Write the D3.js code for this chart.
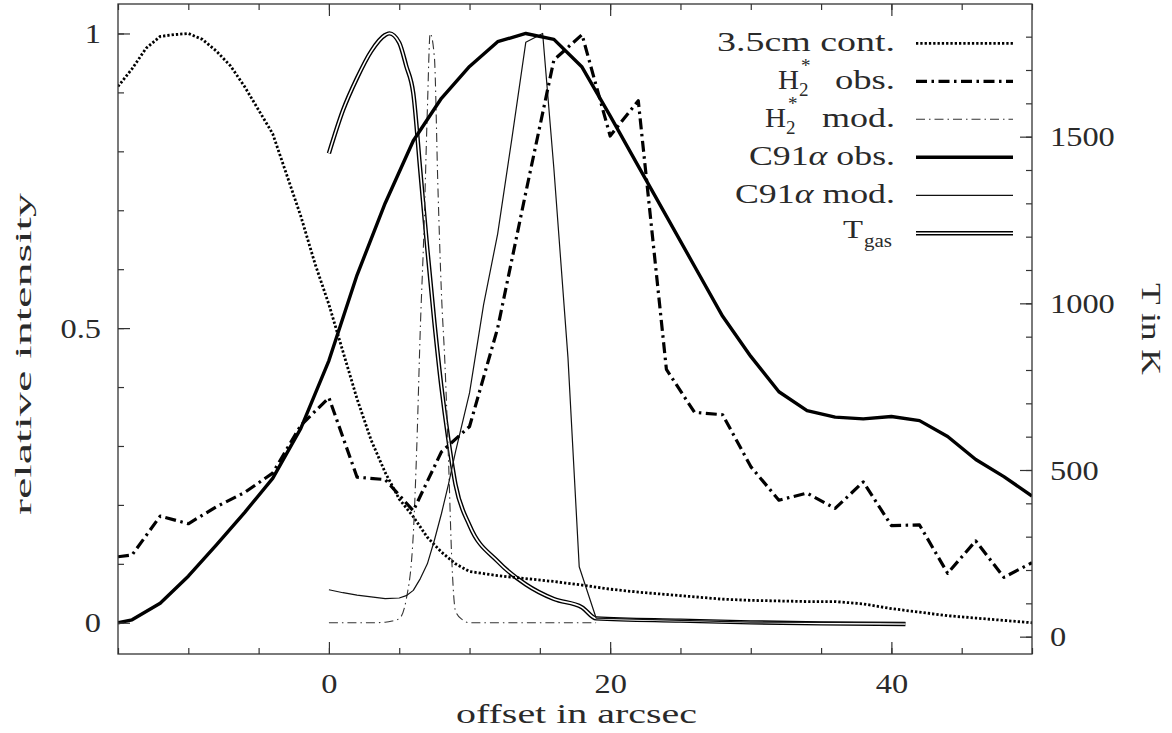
<!DOCTYPE html>
<html>
<head>
<meta charset="utf-8">
<script src="https://cdn.jsdelivr.net/npm/d3@7"></script>
<style>
  body { margin: 0; background: #fff; }
  text { font-family: "Liberation Serif", serif; fill: #2a2a2a; }
</style>
</head>
<body>
<div id="d3"></div>
<script>
// ---- data (offset in arcsec / relative intensity, T in K) ----
const contOffset = [-15,-14,-13,-12,-11,-10,-9,-8,-7,-6,-5,-4,-3,-2,-1,0,1,2,3,4,5,6,7,8,9,10,12,14,16,18,20,22,24,26,28,30,32,34,36,38,40,42,44,46,48,50];
const contValue  = [0.91,0.94,0.975,0.995,0.998,1.0,0.99,0.97,0.945,0.91,0.87,0.83,0.76,0.69,0.61,0.54,0.46,0.38,0.31,0.255,0.21,0.18,0.145,0.12,0.10,0.087,0.08,0.075,0.07,0.064,0.057,0.052,0.048,0.044,0.04,0.038,0.037,0.036,0.036,0.032,0.024,0.018,0.012,0.008,0.004,0.0];

const h2ObsOffset = [-15,-14,-12,-10,-8,-6,-4,-2,0,2,4,6,8,10,12,14,16,18,20,22,24,26,28,30,32,34,36,38,40,42,44,46,48,50];
const h2ObsValue  = [0.112,0.115,0.181,0.168,0.197,0.221,0.254,0.335,0.382,0.247,0.243,0.19,0.29,0.333,0.5,0.73,0.955,0.998,0.826,0.886,0.43,0.357,0.353,0.265,0.208,0.22,0.194,0.239,0.165,0.166,0.084,0.139,0.077,0.102];

const h2ModOffset = [0,1,2,3,4,4.5,5,5.5,6,6.25,6.5,6.75,7,7.2,7.5,7.75,8,8.25,8.5,8.75,9,9.5,10,12,14,16,18,19];
const h2ModValue  = [0,0,0,0,0.001,0.003,0.007,0.04,0.15,0.3,0.5,0.66,0.87,1.0,0.96,0.74,0.56,0.44,0.28,0.1,0.02,0.005,0,0,0,0,0,0];

const c91ObsOffset = [-15,-14,-12,-10,-8,-6,-4,-2,0,2,4,6,8,10,12,14,16,18,20,22,24,26,28,30,32,34,36,38,40,42,44,46,48,50];
const c91ObsValue  = [0.0,0.005,0.033,0.079,0.132,0.187,0.245,0.33,0.445,0.59,0.712,0.818,0.89,0.944,0.986,1.0,0.99,0.943,0.86,0.775,0.69,0.605,0.52,0.452,0.392,0.36,0.349,0.346,0.35,0.343,0.316,0.277,0.248,0.215];

const c91ModOffset = [0,1,2,3,4,5,5.5,6,6.5,7,7.5,8,8.5,9,9.5,10,11,12,13,14,15.2,16,17,17.8,19,25,30,41];
const c91ModValue  = [0.056,0.051,0.047,0.044,0.041,0.042,0.046,0.055,0.075,0.1,0.14,0.185,0.235,0.29,0.34,0.39,0.54,0.66,0.82,0.985,1.0,0.77,0.45,0.095,0.008,0.004,0.001,0.0];

const tgasOffset = [0,1,2,3,4,4.3,5,5.5,6,6.5,7,7.5,8,8.5,9,10,12,14,16,18,19,25,30,35,41];
const tgasKelvin = [1450,1579,1676,1756,1805,1810,1782,1712,1630,1397,1162,943,749,590,457,334,226,157,113,88,55,48,43,40,38];

const legendLabels = ["3.5cm cont.", "H2* obs.", "H2* mod.", "C91α obs.", "C91α mod.", "Tgas"];

const xMajorTicks = [0, 20, 40];
const xMinorTicks = [-15,-10,-5,0,5,10,15,20,25,30,35,40,45,50];
const yMajorTicks = [0, 0.5, 1];
const yMinorTicks = [0,0.1,0.2,0.3,0.4,0.5,0.6,0.7,0.8,0.9,1.0];
const tMajorTicks = [0, 500, 1000, 1500];
const tMinorTicks = [0,100,200,300,400,500,600,700,800,900,1000,1100,1200,1300,1400,1500,1600,1700,1800];

// ---- layout ----
const W = 1172, H = 733;
const margin = { left: 118, top: 4 };
const width = 914, height = 650;

const x = d3.scaleLinear().domain([-15, 50]).range([0, width]);
const y = d3.scaleLinear().domain([-0.053, 1.05]).range([height, 0]);
const yT = d3.scaleLinear().domain([-52, 1898]).range([height, 0]);

const LSCALE = 1.2; // tick labels are drawn a bit wider than the font

function styleLine(sel, kind) {
    sel.style("fill", "none").style("stroke", "#000").style("stroke-linejoin", "round");
    if (kind === "cont") sel.style("stroke-width", 2.8).style("stroke-dasharray", "2.3,2");
    if (kind === "h2obs") sel.style("stroke-width", 3.2).style("stroke-dasharray", "11,4.5,2.5,4.5");
    if (kind === "h2mod") sel.style("stroke-width", 1.1).style("stroke", "#333").style("stroke-dasharray", "9,4,1.5,4");
    if (kind === "c91obs") sel.style("stroke-width", 3.4);
    if (kind === "c91mod") sel.style("stroke-width", 1.2).style("stroke", "#111");
}

function drawSVG() {
    const svg = d3.select("#d3")
        .append("svg")
        .attr("width", W)
        .attr("height", H);

    const plot = svg.append("g").attr("transform", `translate(${margin.left},${margin.top})`);

    plot.append("clipPath").attr("id", "clip")
        .append("rect").attr("width", width).attr("height", height);

    const lines = plot.append("g").attr("clip-path", "url(#clip)");

    const relLine = d3.line().x(d => x(d[0])).y(d => y(d[1]));
    const relSmooth = d3.line().x(d => x(d[0])).y(d => y(d[1])).curve(d3.curveMonotoneX);
    const tLine = d3.line().x(d => x(d[0])).y(d => yT(d[1])).curve(d3.curveMonotoneX);

    const zip = (a, b) => a.map((v, i) => [v, b[i]]);

    // T gas: double line (black outer, white core)
    const tgas = zip(tgasOffset, tgasKelvin);
    lines.append("path").attr("d", tLine(tgas))
        .style("fill", "none").style("stroke", "#000").style("stroke-width", 4.4);
    lines.append("path").attr("d", tLine(tgas))
        .style("fill", "none").style("stroke", "#fff").style("stroke-width", 1.6);

    lines.append("path").attr("d", relLine(zip(contOffset, contValue))).call(styleLine, "cont");
    lines.append("path").attr("d", relSmooth(zip(h2ModOffset, h2ModValue))).call(styleLine, "h2mod");
    lines.append("path").attr("d", relLine(zip(c91ModOffset, c91ModValue))).call(styleLine, "c91mod");
    lines.append("path").attr("d", relLine(zip(h2ObsOffset, h2ObsValue))).call(styleLine, "h2obs");
    lines.append("path").attr("d", relLine(zip(c91ObsOffset, c91ObsValue))).call(styleLine, "c91obs");

    drawAxes(plot);

    plot.append("rect")
        .attr("width", width).attr("height", height)
        .style("fill", "none").style("stroke", "#333").style("stroke-width", 1.3);

    drawLegend(svg);
}

function tickAxis(plot, axis, tx, ty) {
    const g = plot.append("g")
        .attr("transform", `translate(${tx},${ty})`)
        .style("color", "#333")
        .call(axis);
    g.select(".domain").remove();
    g.selectAll("line").style("stroke-width", 1.2);
    return g;
}

function drawAxes(plot) {
    // bottom / top
    tickAxis(plot, d3.axisBottom(x).tickValues(xMinorTicks).tickSize(-6).tickFormat(""), 0, height);
    tickAxis(plot, d3.axisBottom(x).tickValues(xMajorTicks).tickSize(-12).tickFormat(""), 0, height);
    tickAxis(plot, d3.axisTop(x).tickValues(xMinorTicks).tickSize(-6).tickFormat(""), 0, 0);
    tickAxis(plot, d3.axisTop(x).tickValues(xMajorTicks).tickSize(-12).tickFormat(""), 0, 0);
    // left
    tickAxis(plot, d3.axisLeft(y).tickValues(yMinorTicks).tickSize(-6).tickFormat(""), 0, 0);
    tickAxis(plot, d3.axisLeft(y).tickValues(yMajorTicks).tickSize(-12).tickFormat(""), 0, 0);
    // right (T)
    tickAxis(plot, d3.axisRight(yT).tickValues(tMinorTicks).tickSize(-6).tickFormat(""), width, 0);
    tickAxis(plot, d3.axisRight(yT).tickValues(tMajorTicks).tickSize(-12).tickFormat(""), width, 0);

    // labels
    const xl = tickAxis(plot, d3.axisBottom(x).tickValues(xMajorTicks).tickSize(0).tickFormat(d3.format("d")), 0, height);
    xl.selectAll("text")
        .attr("y", 38.7).attr("dy", null)
        .attr("transform", `scale(${LSCALE},1)`)
        .style("font-size", "27px").style("fill", "#2a2a2a");

    const yl = tickAxis(plot, d3.axisLeft(y).tickValues(yMajorTicks).tickSize(0).tickFormat(d => d3.format("")(d)), 0, 0);
    yl.selectAll("text")
        .attr("x", -17 / LSCALE).attr("dy", "0.34em")
        .attr("transform", `scale(${LSCALE},1)`)
        .style("font-size", "27px").style("fill", "#2a2a2a");

    const tl = tickAxis(plot, d3.axisRight(yT).tickValues(tMajorTicks).tickSize(0).tickFormat(d3.format("d")), width, 0);
    tl.selectAll("text")
        .attr("x", 18 / LSCALE).attr("dy", "0.34em")
        .attr("transform", `scale(${LSCALE},1)`)
        .style("font-size", "27px").style("fill", "#2a2a2a");

    // axis titles
    plot.append("text")
        .attr("x", 456 - margin.left).attr("y", 723 - margin.top)
        .attr("textLength", 241).attr("lengthAdjust", "spacingAndGlyphs")
        .style("font-size", "27px")
        .text("offset in arcsec");

    plot.append("text")
        .attr("transform", `translate(${31 - margin.left},${354 - margin.top}) rotate(-90)`)
        .attr("text-anchor", "middle")
        .attr("textLength", 322).attr("lengthAdjust", "spacingAndGlyphs")
        .style("font-size", "23px")
        .text("relative intensity");

    plot.append("text")
        .attr("transform", `translate(${1142 - margin.left},${329 - margin.top}) rotate(90)`)
        .attr("text-anchor", "middle")
        .attr("textLength", 92).attr("lengthAdjust", "spacingAndGlyphs")
        .style("font-size", "27px")
        .text("T in K");
}

function drawLegend(svg) {
    const lg = svg.append("g");
    const kinds = ["cont", "h2obs", "h2mod", "c91obs", "c91mod", "tgas"];
    const x0 = 916, x1 = 1013, textEnd = 895;

    kinds.forEach((k, i) => {
        const ly = 43.3 + i * 38;
        const seg = d3.line()([[x0, ly], [x1, ly]]);
        if (k === "tgas") {
            lg.append("path").attr("d", seg).style("stroke", "#000").style("stroke-width", 4.4);
            lg.append("path").attr("d", seg).style("stroke", "#fff").style("stroke-width", 1.6);
        } else {
            lg.append("path").attr("d", seg).call(styleLine, k);
        }

        const base = ly + 8;
        const label = legendLabels[i];
        if (label.startsWith("H2*")) {
            const rest = label.slice(4);
            const len = rest === "obs." ? 60 : 73;
            const start = textEnd - len;
            lg.append("text").attr("x", start).attr("y", base)
                .attr("textLength", len).attr("lengthAdjust", "spacingAndGlyphs")
                .style("font-size", "27px").text(rest);
            const hx = start - 57;
            lg.append("text").attr("x", hx).attr("y", base)
                .attr("textLength", 21).attr("lengthAdjust", "spacingAndGlyphs")
                .style("font-size", "27px").text("H");
            lg.append("text").attr("x", hx + 21).attr("y", base + 6.5)
                .style("font-size", "19px").text("2");
            lg.append("text").attr("x", hx + 23).attr("y", base - 17)
                .style("font-size", "19px").text("*");
        } else if (label === "Tgas") {
            lg.append("text").attr("x", 843).attr("y", base - 3)
                .attr("textLength", 20).attr("lengthAdjust", "spacingAndGlyphs")
                .style("font-size", "25px").text("T");
            lg.append("text").attr("x", 864).attr("y", base + 6)
                .attr("textLength", 28).attr("lengthAdjust", "spacingAndGlyphs")
                .style("font-size", "18px").text("gas");
        } else {
            const len = { "3.5cm cont.": 178, "C91α obs.": 146, "C91α mod.": 160 }[label];
            const t = lg.append("text").attr("x", textEnd - len).attr("y", base)
                .attr("textLength", len).attr("lengthAdjust", "spacingAndGlyphs")
                .style("font-size", "27px");
            if (label.includes("α")) {
                const parts = label.split("α");
                t.append("tspan").text(parts[0]);
                t.append("tspan").style("font-style", "italic").text("α");
                t.append("tspan").text(parts[1]);
            } else {
                t.text(label);
            }
        }
    });
}

drawSVG();
</script>
</body>
</html>
